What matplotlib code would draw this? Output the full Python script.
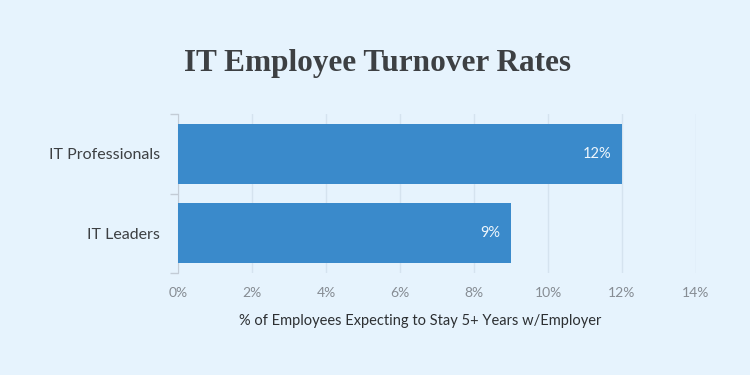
import numpy as np
import matplotlib.pyplot as plt

categories = ["IT Professionals", "IT Leaders"]
values = [12, 9]
xticks = [0, 2, 4, 6, 8, 10, 12, 14]

plt.rcParams["font.family"] = ["Lato", "DejaVu Sans"]

bg = "#e6f3fd"
bar_color = "#3a8acb"
axis_gray = "#c3ccd6"

fig = plt.figure(figsize=(7.5, 3.75), dpi=100, facecolor=bg)
ax = fig.add_axes([178/750, 1 - 273/375, (696 - 178)/750, (273 - 114)/375])
ax.set_facecolor(bg)

y = np.arange(len(categories))
ax.barh(y, values, height=0.75, color=bar_color, zorder=3)
for yi, v in zip(y, values):
    ax.text(v - 0.3, yi, f"{v}%", ha="right", va="center", color="#eef6fc",
            fontsize=10.5, zorder=4)

ax.set_xlim(0, 14)
ax.set_ylim(1.5, -0.5)
ax.set_xticks(xticks)
ax.set_xticklabels([f"{t}%" for t in xticks], color="#868c93", fontsize=10)
ax.tick_params(axis="x", length=0, pad=10)
ax.grid(axis="x", color="#d5e3ef", linewidth=1, zorder=0)

ax.set_yticks(y)
ax.set_yticklabels(categories, color="#3d4043", fontsize=11.5)
ax.tick_params(axis="y", which="major", length=0, pad=13)
ax.set_yticks([-0.5, 0.5, 1.5], minor=True)
ax.tick_params(axis="y", which="minor", length=6, color=axis_gray, width=1)

for s in ["top", "right", "bottom"]:
    ax.spines[s].set_visible(False)
ax.spines["left"].set_color(axis_gray)

ax.set_xlabel("% of Employees Expecting to Stay 5+ Years w/Employer",
              fontsize=10.5, color="#2d3033")
ax.xaxis.set_label_coords(0.467, -0.255)

fig.text(0.504, 0.83, "IT Employee Turnover Rates", ha="center", va="center",
         fontsize=22.5, fontweight="bold", family="Liberation Serif", color="#3d4043")

fig.savefig("out.png", dpi=100, facecolor=bg)
